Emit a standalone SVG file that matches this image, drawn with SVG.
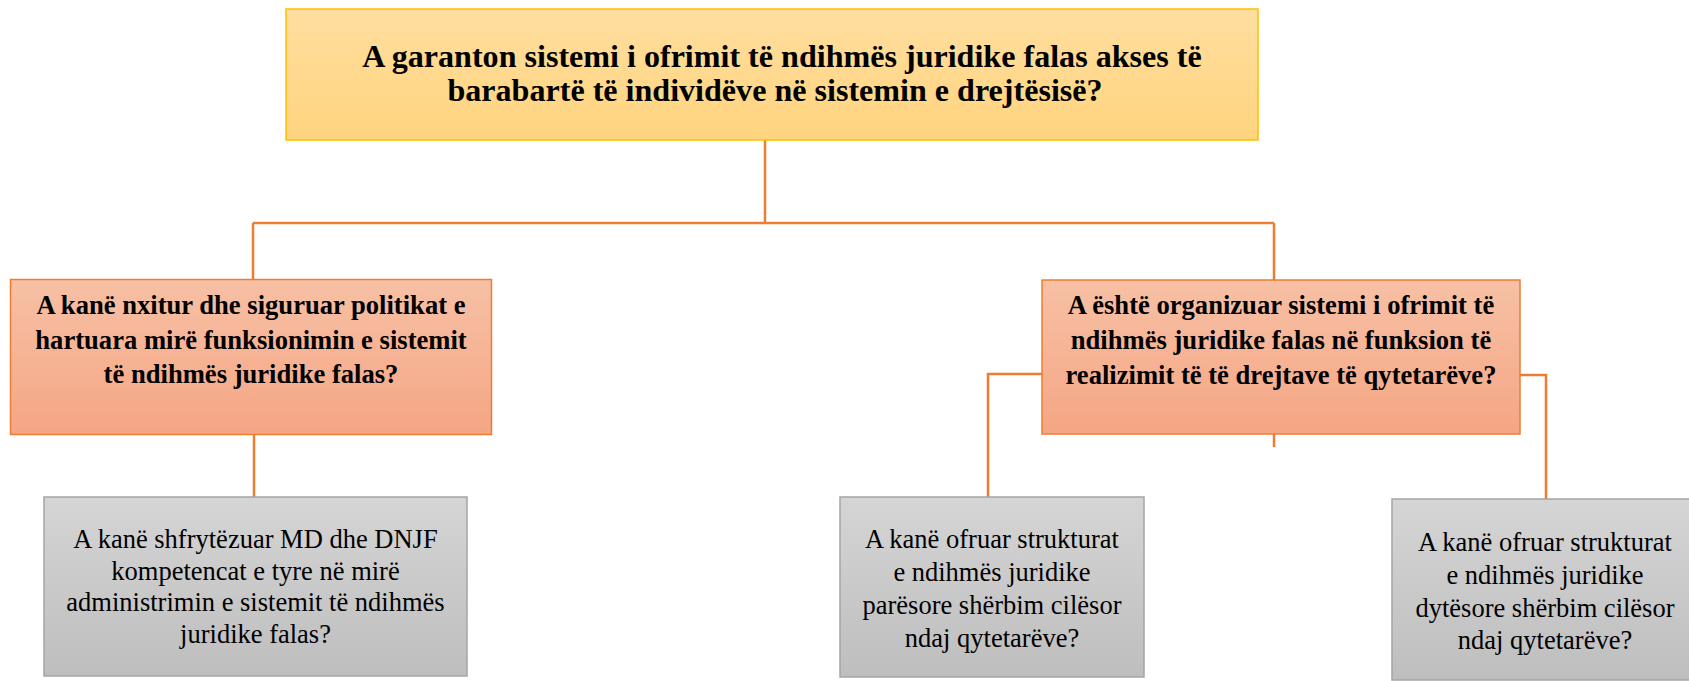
<svg xmlns="http://www.w3.org/2000/svg" width="1689" height="681" viewBox="0 0 1689 681">
<defs>
<linearGradient id="gGold" x1="0" y1="0" x2="0" y2="1"><stop offset="0" stop-color="#FFDE9F"/><stop offset="1" stop-color="#FFD47E"/></linearGradient>
<linearGradient id="gOrange" x1="0" y1="0" x2="0" y2="1"><stop offset="0" stop-color="#F7C0A5"/><stop offset="1" stop-color="#F5A684"/></linearGradient>
<linearGradient id="gGrey" x1="0" y1="0" x2="0" y2="1"><stop offset="0" stop-color="#D5D5D5"/><stop offset="1" stop-color="#BEBEBE"/></linearGradient>
</defs>
<style>
.top{fill:url(#gGold);stroke:#FFC000;stroke-width:1.5}
.mid{fill:url(#gOrange);stroke:#ED7D31;stroke-width:1.5}
.bot{fill:url(#gGrey);stroke:#A5A5A5;stroke-width:1.5}
.conn{fill:none;stroke:#ED7D31;stroke-width:2.5}
text{font-family:"Liberation Serif","Times New Roman",serif;fill:#000;text-anchor:middle}
.tb{font-size:32.1px;font-weight:bold}
.mb{font-size:26.6px;font-weight:bold}
.br{font-size:26.5px}
</style>
<rect width="1689" height="681" fill="#fff"/>
<g id="connectors">
<path class="conn" d="M765 140V223M253 223H1274M253 223V280M1274 223V280"/>
<path class="conn" d="M254 434V497"/>
<path class="conn" d="M1042 374H988V497M1520 375H1546V499M1274 434V447"/>
</g>
<g id="node-top">
<rect class="top" x="286" y="9" width="972" height="131"/>
<text class="tb" x="782" y="67">A garanton sistemi i ofrimit të ndihmës juridike falas akses të</text>
<text class="tb" x="775" y="101">barabartë të individëve në sistemin e drejtësisë?</text>
</g>
<g id="node-left">
<rect class="mid" x="10.5" y="279.5" width="481" height="155"/>
<text class="mb" x="251" y="314">A kanë nxitur dhe siguruar politikat e</text>
<text class="mb" x="251" y="349">hartuara mirë funksionimin e sistemit</text>
<text class="mb" x="251" y="383">të ndihmës juridike falas?</text>
</g>
<g id="node-right">
<rect class="mid" x="1042" y="280" width="478" height="154"/>
<text class="mb" x="1281" y="314">A është organizuar sistemi i ofrimit të</text>
<text class="mb" x="1281" y="349">ndihmës juridike falas në funksion të</text>
<text class="mb" x="1281" y="384">realizimit të të drejtave të qytetarëve?</text>
</g>
<g id="node-bl">
<rect class="bot" x="44" y="497" width="423" height="179"/>
<text class="br" x="255.5" y="548">A kanë shfrytëzuar MD dhe DNJF</text>
<text class="br" x="255.5" y="580">kompetencat e tyre në mirë</text>
<text class="br" x="255.5" y="611">administrimin e sistemit të ndihmës</text>
<text class="br" x="255.5" y="643">juridike falas?</text>
</g>
<g id="node-bm">
<rect class="bot" x="840" y="497" width="304" height="180"/>
<text class="br" x="992" y="548">A kanë ofruar strukturat</text>
<text class="br" x="992" y="581">e ndihmës juridike</text>
<text class="br" x="992" y="614">parësore shërbim cilësor</text>
<text class="br" x="992" y="647">ndaj qytetarëve?</text>
</g>
<g id="node-br">
<rect class="bot" x="1392" y="499" width="304" height="181"/>
<text class="br" x="1545" y="551">A kanë ofruar strukturat</text>
<text class="br" x="1545" y="584">e ndihmës juridike</text>
<text class="br" x="1545" y="617">dytësore shërbim cilësor</text>
<text class="br" x="1545" y="649">ndaj qytetarëve?</text>
</g>
</svg>
